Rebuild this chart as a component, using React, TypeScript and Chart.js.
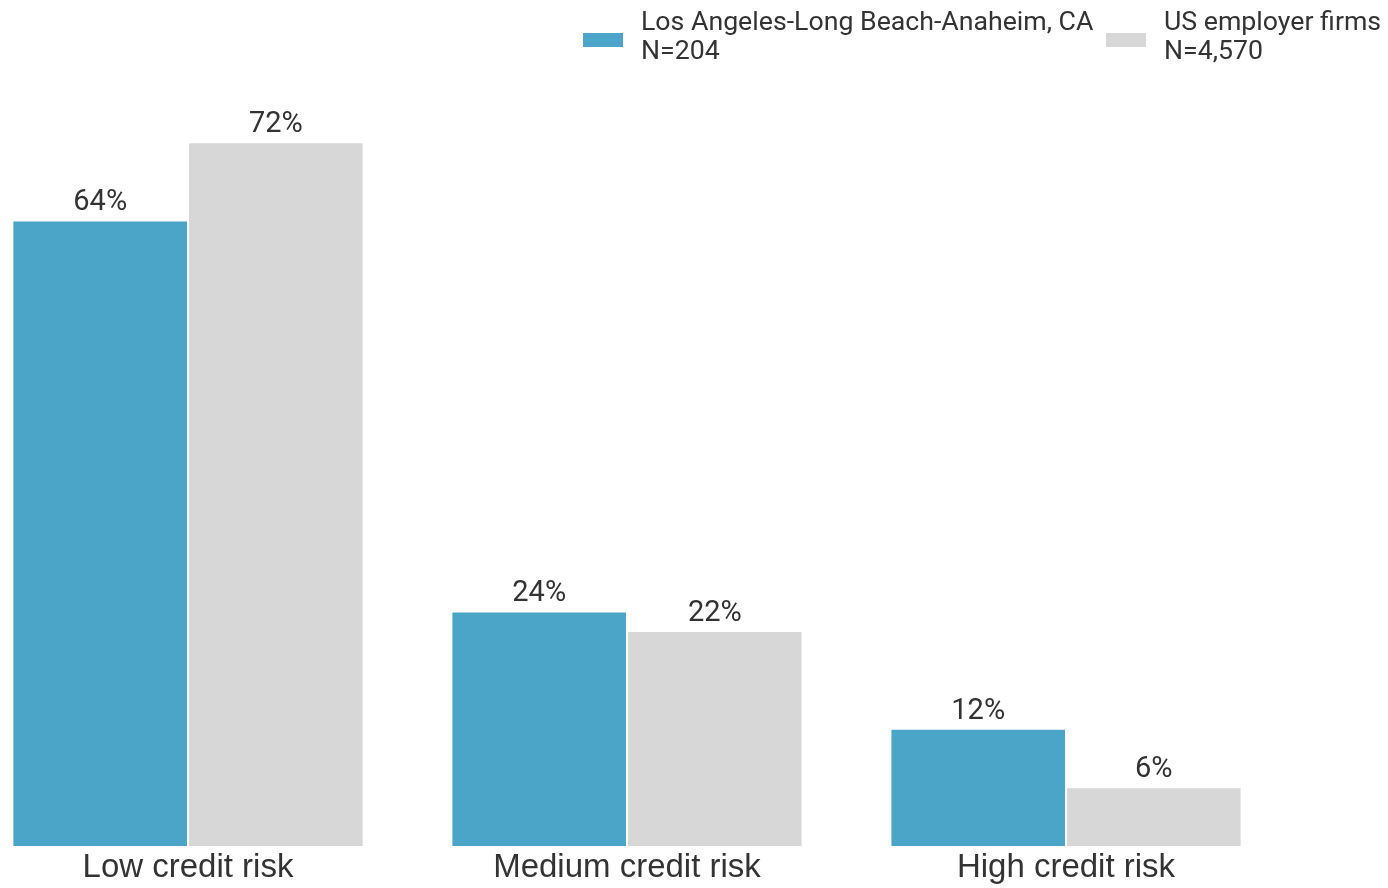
import React, { useEffect, useRef } from "react";
import { Chart, registerables } from "chart.js";

Chart.register(...registerables);

const categories = ["Low credit risk", "Medium credit risk", "High credit risk"];
const seriesNames = [
  ["Los Angeles-Long Beach-Anaheim, CA", "N=204"],
  ["US employer firms", "N=4,570"],
];
const laValues = [64, 24, 12];
const usValues = [72, 22, 6];
const colors = ["#4BA5C8", "#D7D7D7"];

const labelPlugin = {
  id: "customLabels",
  afterDatasetsDraw(chart: any) {
    const ctx = chart.ctx;
    ctx.save();
    ctx.fillStyle = "#333333";
    ctx.font = "29px Roboto";
    ctx.textAlign = "center";
    ctx.textBaseline = "alphabetic";
    chart.data.datasets.forEach((ds: any, di: number) => {
      const meta = chart.getDatasetMeta(di);
      meta.data.forEach((bar: any, i: number) => {
        ctx.fillText(ds.data[i] + "%", bar.x, bar.y - 10);
      });
    });
    const xs = chart.scales.x;
    ctx.font = "33px 'Liberation Sans'";
    ctx.fillStyle = "#333333";
    ctx.textBaseline = "middle";
    chart.data.labels.forEach((lab: string, i: number) => {
      ctx.fillText(lab, xs.getPixelForValue(i), 868);
    });
    ctx.restore();
  },
  afterDraw(chart: any) {
    const ctx = chart.ctx;
    ctx.save();
    ctx.font = "26.7px Roboto";
    ctx.textAlign = "left";
    ctx.textBaseline = "alphabetic";
    const starts = [583, 1106];
    chart.data.datasets.forEach((ds: any, di: number) => {
      const x0 = starts[di];
      ctx.fillStyle = ds.backgroundColor;
      ctx.fillRect(x0, 33, 40, 14);
      ctx.fillStyle = "#333333";
      const lines = ds.legendLines as string[];
      lines.forEach((ln, li) => {
        ctx.fillText(ln, x0 + 58, 30 + li * 29);
      });
    });
    ctx.restore();
  },
};

export default function App() {
  const ref = useRef<HTMLCanvasElement>(null);
  useEffect(() => {
    if (!ref.current) return;
    const chart = new Chart(ref.current, {
      type: "bar",
      data: {
        labels: categories,
        datasets: [
          {
            label: seriesNames[0].join(" "),
            legendLines: seriesNames[0],
            data: laValues,
            backgroundColor: colors[0],
            borderColor: "rgba(255,255,255,0.55)",
            borderWidth: 1,
            categoryPercentage: 0.8,
            barPercentage: 1,
            clip: false,
          } as any,
          {
            label: seriesNames[1].join(" "),
            legendLines: seriesNames[1],
            data: usValues,
            backgroundColor: colors[1],
            borderColor: "rgba(255,255,255,0.55)",
            borderWidth: 1,
            categoryPercentage: 0.8,
            barPercentage: 1,
            clip: false,
          } as any,
        ],
      },
      options: {
        animation: false,
        responsive: false,
        layout: { padding: { left: 188, right: 322, top: 64, bottom: 42 } },
        plugins: { legend: { display: false }, tooltip: { enabled: false } },
        scales: {
          x: { display: false, offset: false, grid: { display: false } },
          y: { display: false, min: 0, max: 80 },
        },
      },
      plugins: [labelPlugin],
    });
    return () => chart.destroy();
  }, []);
  return (
    <canvas
      ref={ref}
      width={1388}
      height={888}
      style={{ position: "fixed", left: 0, top: 0, width: 1388, height: 888 }}
    />
  );
}
